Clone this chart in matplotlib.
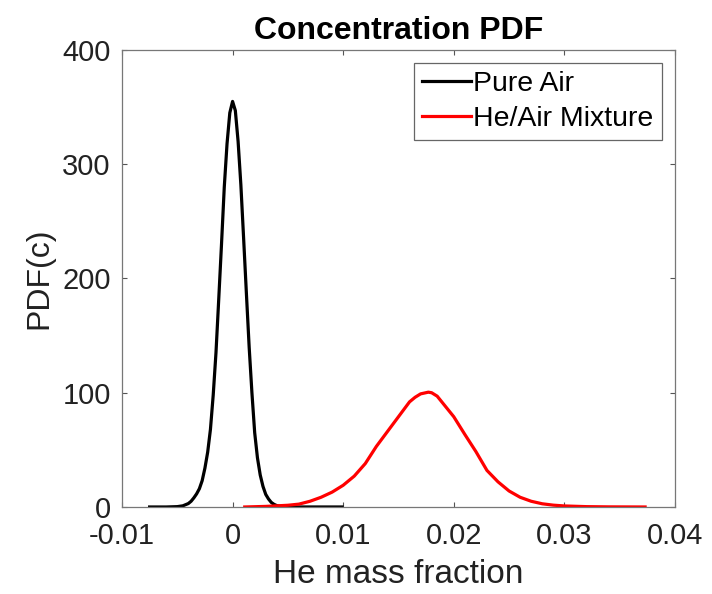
import numpy as np
import matplotlib
matplotlib.use('Agg')
import matplotlib.pyplot as plt

plt.rcParams['font.family'] = ['Liberation Sans', 'DejaVu Sans']

# values
air_x = [-0.0075, -0.006, -0.005, -0.0045, -0.004, -0.00375, -0.0035, -0.00325,
         -0.003, -0.00275, -0.0025, -0.00225, -0.002, -0.00175, -0.0015,
         -0.00125, -0.001, -0.00075, -0.0005, -0.00025, 0.0, 0.00025, 0.0005,
         0.00075, 0.001, 0.00125, 0.0015, 0.00175, 0.002, 0.00225, 0.0025,
         0.00275, 0.003, 0.00325, 0.0035, 0.00375, 0.004, 0.0045, 0.005, 0.007,
         0.0099]
air_pdf = [0, 0, 0.3, 1, 3, 5, 8, 11.5, 16, 23, 34, 48, 68, 98, 135, 182, 230,
           280, 318, 345, 355, 347, 320, 282, 235, 187, 140, 100, 65, 43, 28,
           18, 11, 7, 4, 2.3, 1.2, 0.3, 0, 0, 0]

mix_x = [0.0011, 0.003, 0.005, 0.006, 0.007, 0.008, 0.009, 0.010, 0.011, 0.012,
         0.013, 0.014, 0.015, 0.016, 0.0165, 0.017, 0.0177, 0.018, 0.0185, 0.019,
         0.020, 0.021, 0.022, 0.023, 0.024, 0.025, 0.026, 0.027, 0.028, 0.029,
         0.030, 0.032, 0.034, 0.0373]
mix_pdf = [0, 0.5, 1.5, 2.5, 5, 8.5, 13, 19, 27, 38, 53, 66, 79, 92, 96, 99,
           100.5, 100, 97, 91, 79, 63.5, 48.5, 32, 22, 14, 8.5, 5, 2.8, 1.6,
           0.9, 0.3, 0.1, 0]

xticks = [-0.01, 0, 0.01, 0.02, 0.03, 0.04]
xticklabels = ['-0.01', '0', '0.01', '0.02', '0.03', '0.04']
yticks = [0, 100, 200, 300, 400]

fig = plt.figure(figsize=(7.12, 5.94), dpi=100)
ax = fig.add_axes([0.1713, 0.1465, 0.7767, 0.7693])

ax.plot(air_x, air_pdf, color='black', lw=2.3, label='Pure Air')
ax.plot(mix_x, mix_pdf, color='red', lw=2.3, label='He/Air Mixture')

ax.set_xlim(-0.01, 0.04)
ax.set_ylim(0, 400)
ax.set_xticks(xticks)
ax.set_xticklabels(xticklabels)
ax.set_yticks(yticks)
ax.tick_params(direction='in', length=3.5, width=0.8, top=True, right=True,
               labelsize=21, colors='#555555', labelcolor='#222222')
ax.tick_params(axis='x', pad=10.5)
ax.tick_params(axis='y', pad=8)
for s in ax.spines.values():
    s.set_color('#777777')
    s.set_linewidth(0.9)

ax.set_xlabel('He mass fraction', fontsize=24, color='#222222', labelpad=7)
ax.set_ylabel('PDF(c)', fontsize=23, color='#222222', labelpad=6)
ax.set_title('Concentration PDF', fontsize=23, fontweight='bold', pad=8)

leg = ax.legend(loc='upper right', fontsize=20.5, handlelength=1.7,
                handletextpad=0.1, labelspacing=0.3, borderpad=0.3,
                borderaxespad=0.45, fancybox=False, framealpha=1)
leg.get_frame().set_edgecolor('#666666')
leg.get_frame().set_linewidth(0.9)

fig.savefig('out.png', dpi=100)
